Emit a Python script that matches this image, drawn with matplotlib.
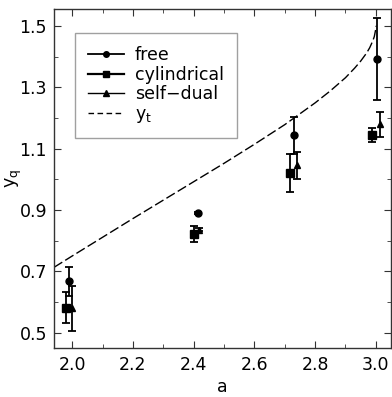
import matplotlib
matplotlib.use("Agg")
import matplotlib.pyplot as plt
from matplotlib.ticker import MultipleLocator, FormatStrFormatter

# data
free_a = [1.990, 2.413, 2.730, 3.004]
free_y = [0.668, 0.890, 1.143, 1.393]
free_err = [0.047, 0.004, 0.061, 0.133]

cyl_a = [1.978, 2.400, 2.718, 2.989]
cyl_y = [0.581, 0.823, 1.019, 1.143]
cyl_err = [0.050, 0.026, 0.062, 0.023]

sd_a = [2.000, 2.418, 2.739, 3.0125]
sd_y = [0.579, 0.836, 1.045, 1.179]
sd_err = [0.073, 0.004, 0.045, 0.041]

yt_a = [1.94, 2.0, 2.1, 2.2, 2.3, 2.4, 2.5, 2.6, 2.7, 2.8, 2.85, 2.9, 2.93,
        2.95, 2.97, 2.98, 2.99, 2.995, 2.999, 3.0]
yt_y = [0.713, 0.750, 0.811, 0.872, 0.932, 0.992, 1.052, 1.114, 1.178, 1.249,
        1.288, 1.331, 1.362, 1.385, 1.412, 1.429, 1.451, 1.465, 1.485, 1.500]

plt.rcParams['font.family'] = ['DejaVu Sans']
fig = plt.figure(figsize=(3.92, 3.97), dpi=100)
ax = fig.add_axes([0.1378, 0.1234, 0.8596, 0.8539])

eb_kw = dict(color='black', elinewidth=1.3, capsize=3, capthick=1.3, linestyle='none')
ax.errorbar(free_a, free_y, yerr=free_err, marker='o', markersize=5, **eb_kw)
ax.errorbar(cyl_a, cyl_y, yerr=cyl_err, marker='s', markersize=5.5, **eb_kw)
ax.errorbar(sd_a, sd_y, yerr=sd_err, marker='^', markersize=5, **eb_kw)
ax.plot(yt_a, yt_y, color='black', linewidth=1.0, dashes=(7, 2.5))

# legend proxies
h1, = ax.plot([], [], color='black', lw=1.3, marker='o', markersize=4)
h2, = ax.plot([], [], color='black', lw=1.6, marker='s', markersize=5)
h3, = ax.plot([], [], color='black', lw=1.0, marker='^', markersize=4)
h4, = ax.plot([], [], color='black', lw=1.0, dashes=(4, 2.5))
leg = ax.legend([h1, h2, h3, h4], ['free', 'cylindrical', 'self\u2212dual', r'$\mathregular{y_t}$'],
                loc='upper left', bbox_to_anchor=(0.062, 0.928), fontsize=12.5,
                handlelength=2.1, frameon=True, fancybox=False, borderpad=0.75,
                labelspacing=0.08, handletextpad=0.6, borderaxespad=0)
leg.get_frame().set_edgecolor('#888888')
leg.get_frame().set_linewidth(1.0)

ax.set_xlim(1.94, 3.05)
ax.set_ylim(0.45, 1.555)
ax.xaxis.set_major_locator(MultipleLocator(0.2))
ax.xaxis.set_minor_locator(MultipleLocator(0.1))
ax.yaxis.set_minor_locator(MultipleLocator(0.1))
ax.set_yticks([0.5, 0.7, 0.9, 1.1, 1.3, 1.5])
ax.tick_params(which='both', direction='in', top=True, right=True, labelsize=12.5, color='#333333')
ax.tick_params(which='major', length=5)
ax.tick_params(which='minor', length=3)
ax.tick_params(axis='x', pad=6)
ax.tick_params(axis='y', pad=5)
ax.xaxis.set_major_formatter(FormatStrFormatter('%.1f'))
ax.yaxis.set_major_formatter(FormatStrFormatter('%.1f'))
for s in ax.spines.values():
    s.set_color('#333333')
    s.set_linewidth(1.0)

ax.set_xlabel('a', fontsize=12.5, va='center')
ax.xaxis.set_label_coords(0.5, -0.115)
ax.set_ylabel(r'$\mathregular{y_q}$', fontsize=12.5, va='center')
ax.yaxis.set_label_coords(-0.118, 0.5)

fig.savefig('out.png', dpi=100)
